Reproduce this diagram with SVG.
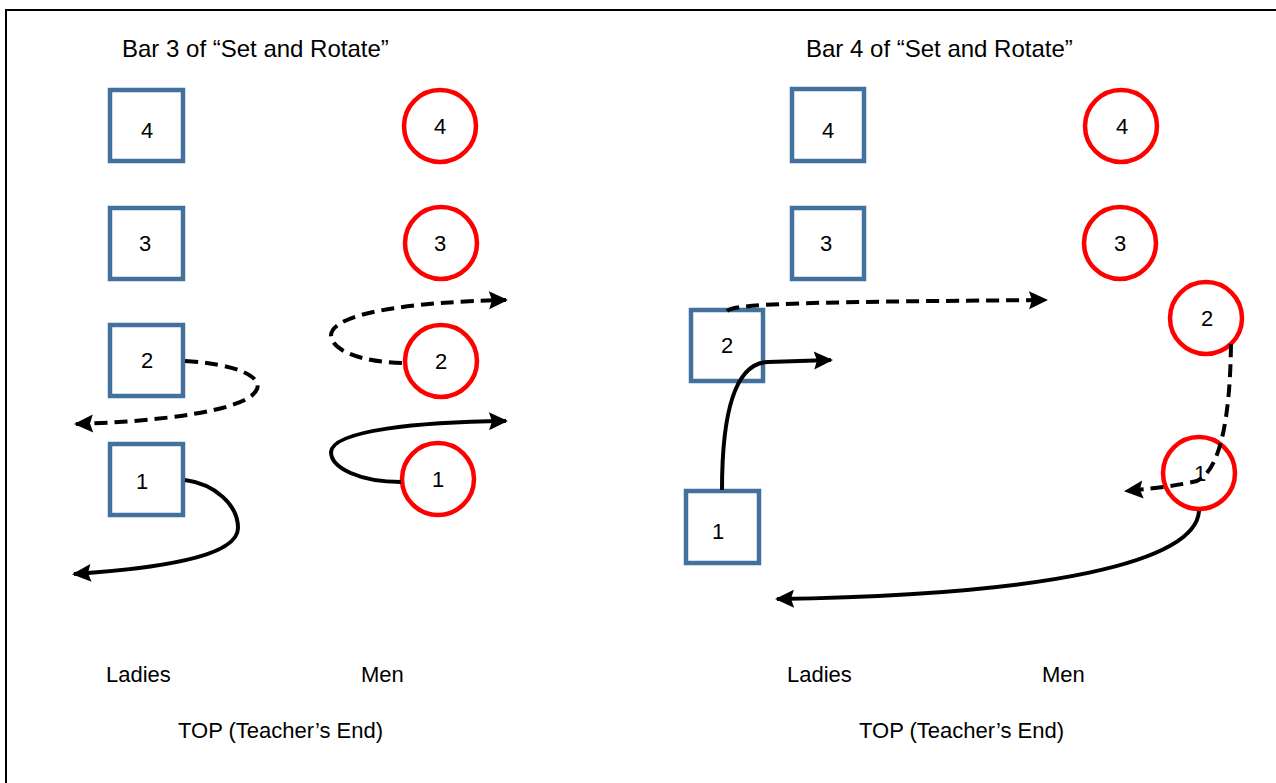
<svg xmlns="http://www.w3.org/2000/svg" width="1276" height="783" viewBox="0 0 1276 783">
<style>
.t{font-family:"Liberation Sans",Arial,sans-serif;fill:#000;}
.title{font-size:24px;}
.lbl{font-size:22px;}
.num{font-size:22px;text-anchor:middle;}
.sq{fill:#fff;stroke:#41719C;stroke-width:4.5;}
.ci{fill:#fff;stroke:#FF0000;stroke-width:4.5;}
.c{fill:none;stroke:#000;stroke-width:4;marker-end:url(#ah);}
.d{stroke-dasharray:13 7;}
</style>
<defs>
<marker id="ah" markerUnits="userSpaceOnUse" markerWidth="22" markerHeight="20" refX="17" refY="9" orient="auto" overflow="visible">
<path d="M0,0 L19,9 L0,18 L3,9 Z" fill="#000"/>
</marker>
</defs>
<rect x="0" y="0" width="1276" height="783" fill="#fff"/>
<path d="M6,783 V10 H1276" fill="none" stroke="#000" stroke-width="2"/>

<text class="t title" x="122" y="57">Bar 3 of “Set and Rotate”</text>
<text class="t title" x="806" y="57">Bar 4 of “Set and Rotate”</text>

<g id="l-sq4"><rect class="sq" x="110" y="90" width="73" height="71"/><text class="t num" x="147" y="138">4</text></g>
<g id="l-sq3"><rect class="sq" x="110" y="208" width="73" height="71"/><text class="t num" x="145" y="251">3</text></g>
<g id="l-sq2"><rect class="sq" x="110" y="325" width="73" height="71"/><text class="t num" x="147" y="368">2</text></g>
<g id="l-sq1"><rect class="sq" x="110" y="444" width="73" height="71"/><text class="t num" x="142" y="489">1</text></g>
<g id="l-ci4"><circle class="ci" cx="440" cy="126" r="36"/><text class="t num" x="440" y="134">4</text></g>
<g id="l-ci3"><circle class="ci" cx="441" cy="243" r="36"/><text class="t num" x="440" y="251">3</text></g>
<g id="l-ci2"><circle class="ci" cx="441" cy="361" r="36"/><text class="t num" x="441" y="369">2</text></g>
<g id="l-ci1"><circle class="ci" cx="438" cy="479" r="36"/><text class="t num" x="438" y="487">1</text></g>

<g id="r-sq4"><rect class="sq" x="792" y="89" width="72" height="72"/><text class="t num" x="828" y="138">4</text></g>
<g id="r-sq3"><rect class="sq" x="792" y="208" width="72" height="71"/><text class="t num" x="826" y="251">3</text></g>
<g id="r-sq2"><rect class="sq" x="691" y="310" width="72" height="71"/><text class="t num" x="727" y="353">2</text></g>
<g id="r-sq1"><rect class="sq" x="686" y="491" width="73" height="72"/><text class="t num" x="718" y="539">1</text></g>
<g id="r-ci4"><circle class="ci" cx="1121" cy="126" r="36"/><text class="t num" x="1122" y="134">4</text></g>
<g id="r-ci3"><circle class="ci" cx="1120" cy="243" r="36"/><text class="t num" x="1120" y="251">3</text></g>
<g id="r-ci2"><circle class="ci" cx="1206" cy="318" r="36"/><text class="t num" x="1207" y="326">2</text></g>
<g id="r-ci1"><circle class="ci" cx="1199" cy="473" r="36"/><text class="t num" x="1200" y="481">1</text></g>

<g id="connectors">
<path class="c d" d="M185,361 C235,364 262,376 257,389 C248,412 150,422 76,424"/>
<path class="c" d="M185,480 C215,484 238,505 238,528 C238,558 150,569 74,574"/>
<path class="c d" d="M402,363 C360,362 331,350 331,335 C333,313 410,302 506,300"/>
<path class="c" d="M401,482 C360,482 331,468 331,452 C333,430 420,422 506,421"/>
<path class="c d" d="M727,311 C735,304 790,302 1046,300"/>
<path class="c" d="M722,490 C722,410 736,363 768,362 L831,360"/>
<path class="c d" d="M1231,344 C1230,420 1220,470 1197,481 C1180,485 1160,488 1126,491"/>
<path class="c" d="M1199,511 C1196,562 1050,595 777,599"/>
</g>

<text class="t lbl" x="106" y="682">Ladies</text>
<text class="t lbl" x="361" y="682">Men</text>
<text class="t lbl" x="178" y="738">TOP (Teacher’s End)</text>
<text class="t lbl" x="787" y="682">Ladies</text>
<text class="t lbl" x="1042" y="682">Men</text>
<text class="t lbl" x="859" y="738">TOP (Teacher’s End)</text>
</svg>
